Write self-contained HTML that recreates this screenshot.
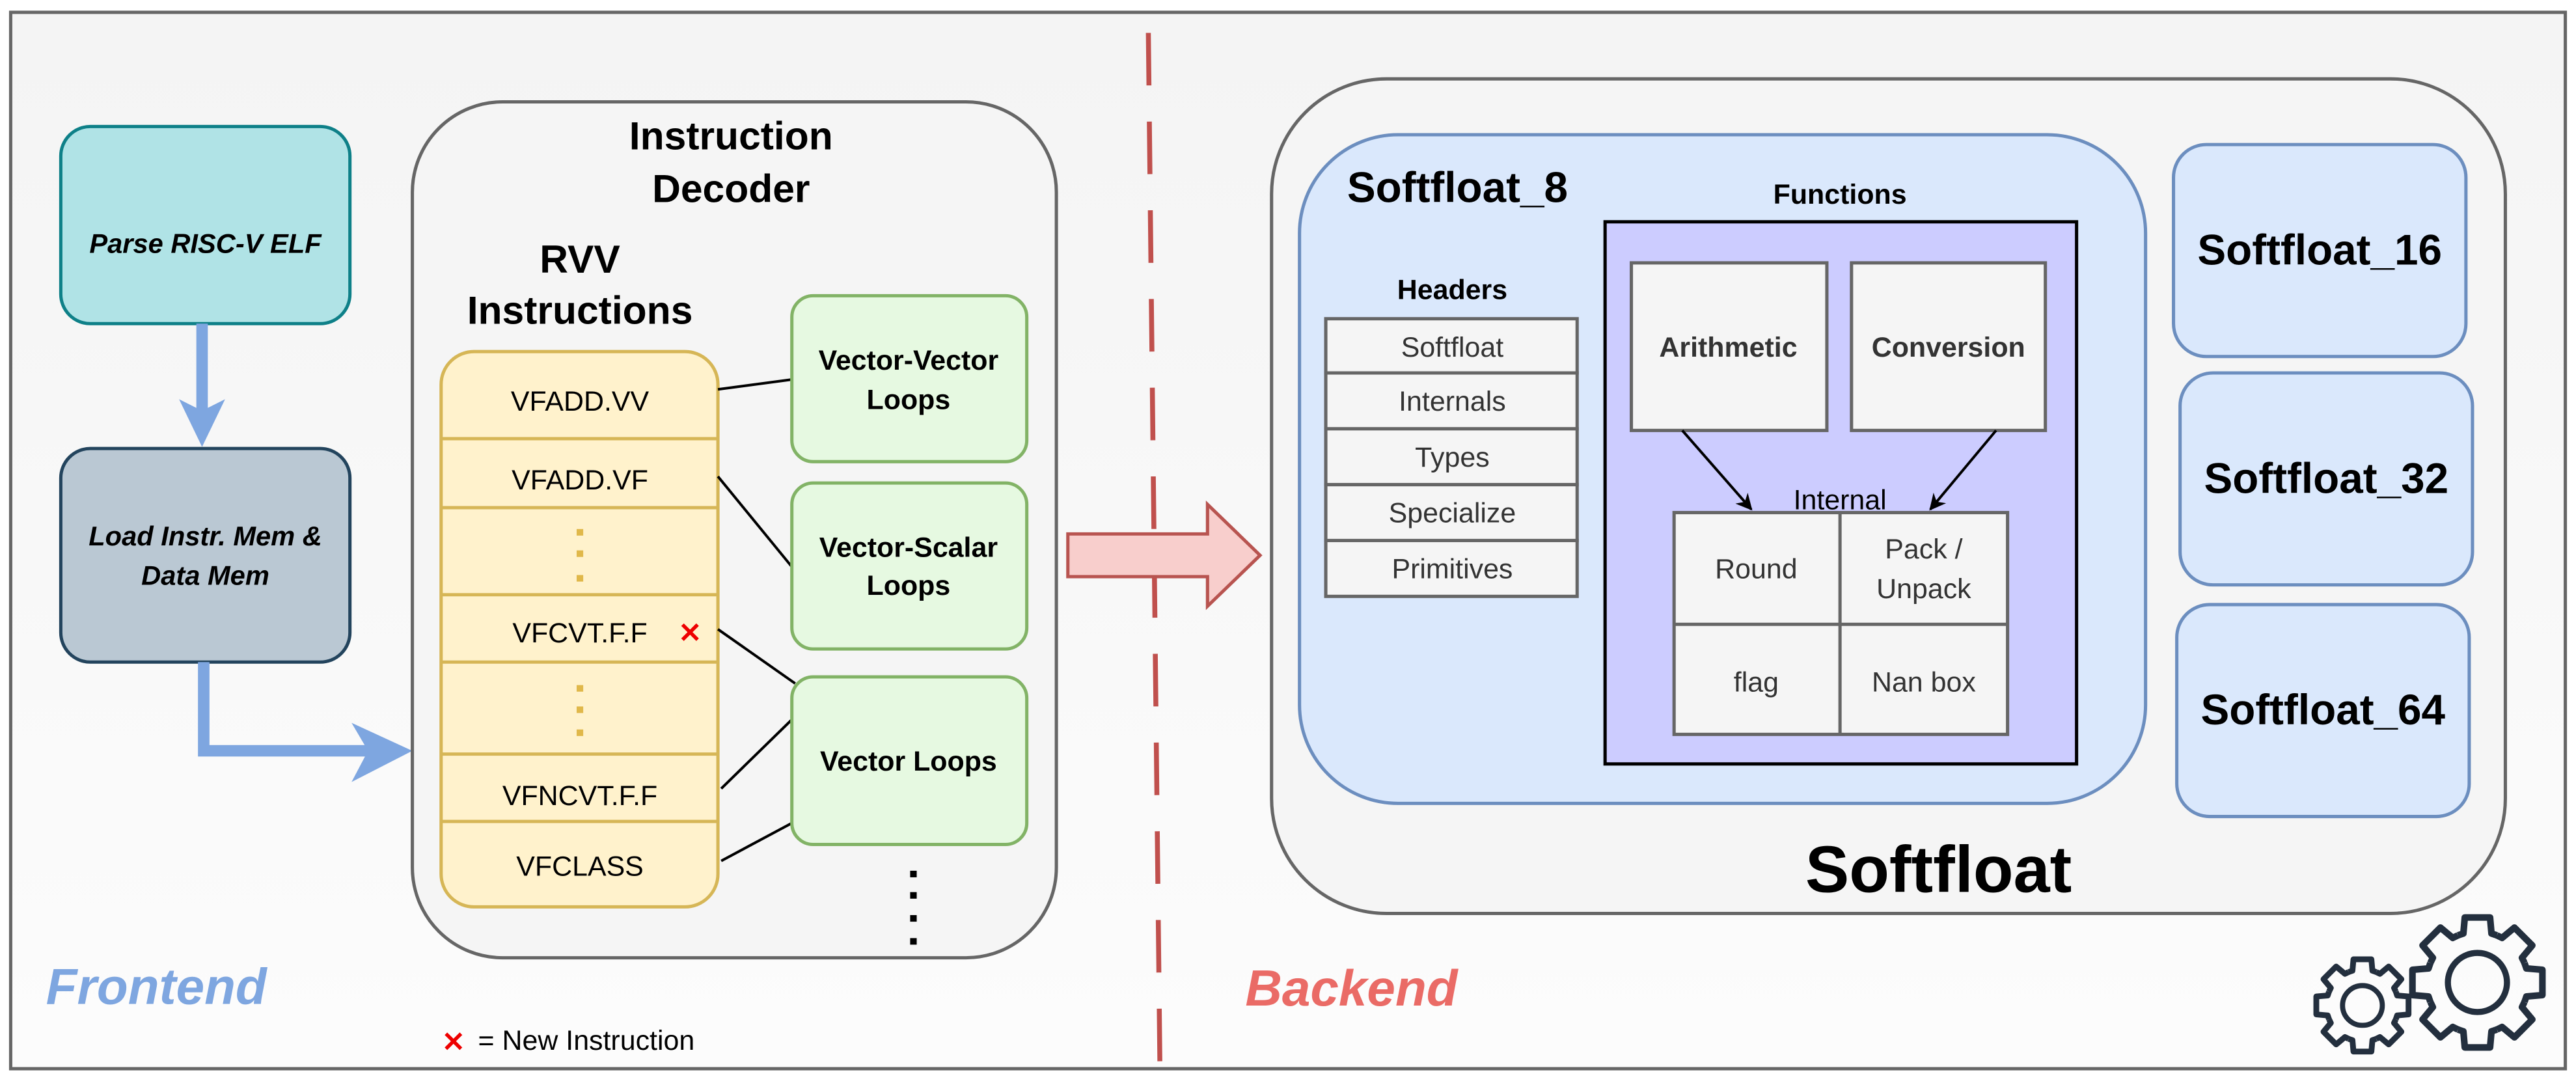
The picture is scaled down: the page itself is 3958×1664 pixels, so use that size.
<!DOCTYPE html>
<html><head><meta charset="utf-8"><style>
html,body{margin:0;padding:0;background:#fff}
svg{display:block}
text{font-family:"Liberation Sans",Arial,sans-serif}
</style></head><body>
<svg width="3958" height="1664" viewBox="0 0 1568 659.2" preserveAspectRatio="none" xmlns="http://www.w3.org/2000/svg">
<defs>
<linearGradient id="bg" x1="0" y1="0" x2="0" y2="1"><stop offset="0" stop-color="#f4f4f4"/><stop offset="1" stop-color="#fcfcfc"/></linearGradient>
<marker id="ah" markerWidth="10" markerHeight="10" refX="9" refY="5" orient="auto" markerUnits="userSpaceOnUse"><path d="M0,0 L10,5 L0,10 L3,5 Z" fill="#000"/></marker>
<polyline id="tooth" points="-.383,-.924 -.276,-.961 -.248,-1.276 .248,-1.276 .276,-.961 .383,-.924" fill="none" stroke="#232f3e" stroke-linejoin="round"/>
</defs>
<rect x="6.5" y="7.5" width="1555" height="643" fill="url(#bg)" stroke="#666" stroke-width="2"/>

<!-- Parse / Load -->
<rect x="37" y="77" width="176" height="120" rx="18" fill="#b0e3e6" stroke="#0e8088" stroke-width="2"/>
<text x="125" y="154" font-size="16.5" font-weight="bold" font-style="italic" text-anchor="middle">Parse RISC-V ELF</text>
<line x1="123" y1="197" x2="123" y2="250" stroke="#7ea6e0" stroke-width="7"/>
<path d="M109,243 L123,272 L137,243 L123,250 Z" fill="#7ea6e0"/>
<rect x="37" y="273" width="176" height="130" rx="18" fill="#bac8d3" stroke="#23445d" stroke-width="2"/>
<text x="125" y="332" font-size="16.5" font-weight="bold" font-style="italic" text-anchor="middle">Load Instr. Mem &amp;</text>
<text x="125" y="356" font-size="16.5" font-weight="bold" font-style="italic" text-anchor="middle">Data Mem</text>
<polyline points="124,403 124,457 235,457" fill="none" stroke="#7ea6e0" stroke-width="7"/>
<path d="M214,440 L251,457 L214,476 L224,457 Z" fill="#7ea6e0"/>

<!-- Instruction decoder -->
<rect x="251" y="62" width="392" height="521" rx="55" fill="#f5f5f5" stroke="#666" stroke-width="2"/>
<text x="445" y="91" font-size="24" font-weight="bold" text-anchor="middle">Instruction</text>
<text x="445" y="123" font-size="24" font-weight="bold" text-anchor="middle">Decoder</text>
<text x="353" y="166" font-size="24" font-weight="bold" text-anchor="middle">RVV</text>
<text x="353" y="197" font-size="24" font-weight="bold" text-anchor="middle">Instructions</text>
<rect x="268.5" y="214" width="168.5" height="338" rx="20" fill="#fff2cc" stroke="#d6b656" stroke-width="2"/>
<g stroke="#d6b656" stroke-width="2">
<line x1="269" y1="267" x2="437" y2="267"/><line x1="269" y1="309" x2="437" y2="309"/>
<line x1="269" y1="362" x2="437" y2="362"/><line x1="269" y1="403" x2="437" y2="403"/>
<line x1="269" y1="459" x2="437" y2="459"/><line x1="269" y1="500" x2="437" y2="500"/>
</g>
<g font-size="17" text-anchor="middle">
<text x="353" y="250">VFADD.VV</text>
<text x="353" y="298">VFADD.VF</text>
<text x="353" y="391">VFCVT.F.F</text>
<text x="353" y="490">VFNCVT.F.F</text>
<text x="353" y="533">VFCLASS</text>
</g>
<g fill="#e0b84a">
<rect x="351" y="322" width="4" height="4"/><rect x="351" y="335" width="4" height="4"/><rect x="351" y="350" width="4" height="4"/>
<rect x="351" y="417" width="4" height="4"/><rect x="351" y="430" width="4" height="4"/><rect x="351" y="444" width="4" height="4"/>
</g>
<text x="420" y="391" font-size="17" fill="#e00" text-anchor="middle" font-weight="bold">✕</text>
<g stroke="#000" stroke-width="1.6">
<line x1="437" y1="237" x2="482" y2="231"/>
<line x1="437" y1="290" x2="482" y2="345"/>
<line x1="437" y1="383" x2="484" y2="416"/>
<line x1="439" y1="480" x2="482" y2="438"/>
<line x1="439" y1="524" x2="482" y2="501"/>
</g>
<g fill="#e6f9e1" stroke="#82b366" stroke-width="2">
<rect x="482" y="180" width="143" height="101" rx="13"/>
<rect x="482" y="294" width="143" height="101" rx="13"/>
<rect x="482" y="412" width="143" height="102" rx="13"/>
</g>
<g font-size="17" font-weight="bold" text-anchor="middle">
<text x="553" y="225">Vector-Vector</text><text x="553" y="249">Loops</text>
<text x="553" y="339">Vector-Scalar</text><text x="553" y="362">Loops</text>
<text x="553" y="469">Vector Loops</text>
</g>
<g fill="#000">
<rect x="554" y="530" width="4" height="4"/><rect x="554" y="543" width="4" height="4"/><rect x="554" y="557" width="4" height="4"/><rect x="554" y="571" width="4" height="4"/>
</g>
<text x="28" y="611" font-size="31" font-weight="bold" font-style="italic" fill="#7ea6e0">Frontend</text>
<text x="276" y="640" font-size="17" fill="#e00" text-anchor="middle" font-weight="bold">✕</text>
<text x="291" y="639" font-size="17">= New Instruction</text>

<!-- divider -->
<line x1="699" y1="20" x2="706" y2="646" stroke="#c0504d" stroke-width="3" stroke-dasharray="32,22"/>

<!-- big arrow -->
<path d="M650,325 L735,325 L735,307 L767,338 L735,369 L735,351 L650,351 Z" fill="#f8cecc" stroke="#b85450" stroke-width="2"/>

<!-- Softfloat -->
<rect x="774" y="48" width="751" height="508" rx="70" fill="#f5f5f5" stroke="#666" stroke-width="2"/>
<rect x="791" y="82" width="515" height="407" rx="60" fill="#dae8fc" stroke="#6c8ebf" stroke-width="2"/>
<text x="820" y="123" font-size="26" font-weight="bold">Softfloat_8</text>
<text x="1120" y="124" font-size="17" font-weight="bold" text-anchor="middle">Functions</text>
<rect x="977" y="135" width="287" height="330" fill="#ccccff" stroke="#000" stroke-width="2"/>
<g fill="#f5f5f5" stroke="#666" stroke-width="2">
<rect x="993" y="160" width="119" height="102"/>
<rect x="1127" y="160" width="118" height="102"/>
<rect x="1019" y="312" width="203" height="135"/>
</g>
<g stroke="#666" stroke-width="2"><line x1="1120" y1="312" x2="1120" y2="447"/><line x1="1019" y1="380" x2="1222" y2="380"/></g>
<g font-size="17" font-weight="bold" text-anchor="middle" fill="#333">
<text x="1052" y="217">Arithmetic</text><text x="1186" y="217">Conversion</text>
</g>
<line x1="1024" y1="262" x2="1066" y2="310" stroke="#000" stroke-width="1.6" marker-end="url(#ah)"/>
<line x1="1215" y1="262" x2="1175" y2="310" stroke="#000" stroke-width="1.6" marker-end="url(#ah)"/>
<g font-size="17" text-anchor="middle" fill="#333">
<text x="1120" y="310" fill="#000">Internal</text>
<text x="1069" y="352">Round</text>
<text x="1171" y="340">Pack /</text><text x="1171" y="364">Unpack</text>
<text x="1069" y="421">flag</text><text x="1171" y="421">Nan box</text>
</g>
<text x="884" y="182" font-size="17" font-weight="bold" text-anchor="middle">Headers</text>
<g fill="#f5f5f5" stroke="#666" stroke-width="2">
<rect x="807" y="194" width="153" height="33"/><rect x="807" y="227" width="153" height="34"/>
<rect x="807" y="261" width="153" height="34"/><rect x="807" y="295" width="153" height="34"/>
<rect x="807" y="329" width="153" height="34"/>
</g>
<g font-size="17" text-anchor="middle" fill="#333">
<text x="884" y="217">Softfloat</text><text x="884" y="250">Internals</text><text x="884" y="284">Types</text>
<text x="884" y="318">Specialize</text><text x="884" y="352">Primitives</text>
</g>
<g fill="#dae8fc" stroke="#6c8ebf" stroke-width="2">
<rect x="1323" y="88" width="178" height="129" rx="20"/>
<rect x="1327" y="227" width="178" height="129" rx="20"/>
<rect x="1325" y="368" width="178" height="129" rx="20"/>
</g>
<g font-size="26" font-weight="bold" text-anchor="middle">
<text x="1412" y="161">Softfloat_16</text>
<text x="1416" y="300">Softfloat_32</text>
<text x="1414" y="441">Softfloat_64</text>
</g>
<text x="1180" y="543" font-size="40" font-weight="bold" text-anchor="middle">Softfloat</text>
<text x="758" y="612" font-size="31" font-weight="bold" font-style="italic" fill="#ea6b66">Backend</text>

<!-- gears -->
<g transform="translate(1438,612) scale(22)" stroke-width="0.16">
<use href="#tooth"/><use href="#tooth" transform="rotate(45)"/><use href="#tooth" transform="rotate(90)"/><use href="#tooth" transform="rotate(135)"/>
<use href="#tooth" transform="rotate(180)"/><use href="#tooth" transform="rotate(225)"/><use href="#tooth" transform="rotate(270)"/><use href="#tooth" transform="rotate(315)"/>
<circle r="0.55" fill="none" stroke="#232f3e" stroke-width="0.14"/>
</g>
<g transform="translate(1508,598) scale(31)" stroke-width="0.13">
<use href="#tooth"/><use href="#tooth" transform="rotate(45)"/><use href="#tooth" transform="rotate(90)"/><use href="#tooth" transform="rotate(135)"/>
<use href="#tooth" transform="rotate(180)"/><use href="#tooth" transform="rotate(225)"/><use href="#tooth" transform="rotate(270)"/><use href="#tooth" transform="rotate(315)"/>
<circle r="0.58" fill="none" stroke="#232f3e" stroke-width="0.12"/>
</g>
</svg>
</body></html>
